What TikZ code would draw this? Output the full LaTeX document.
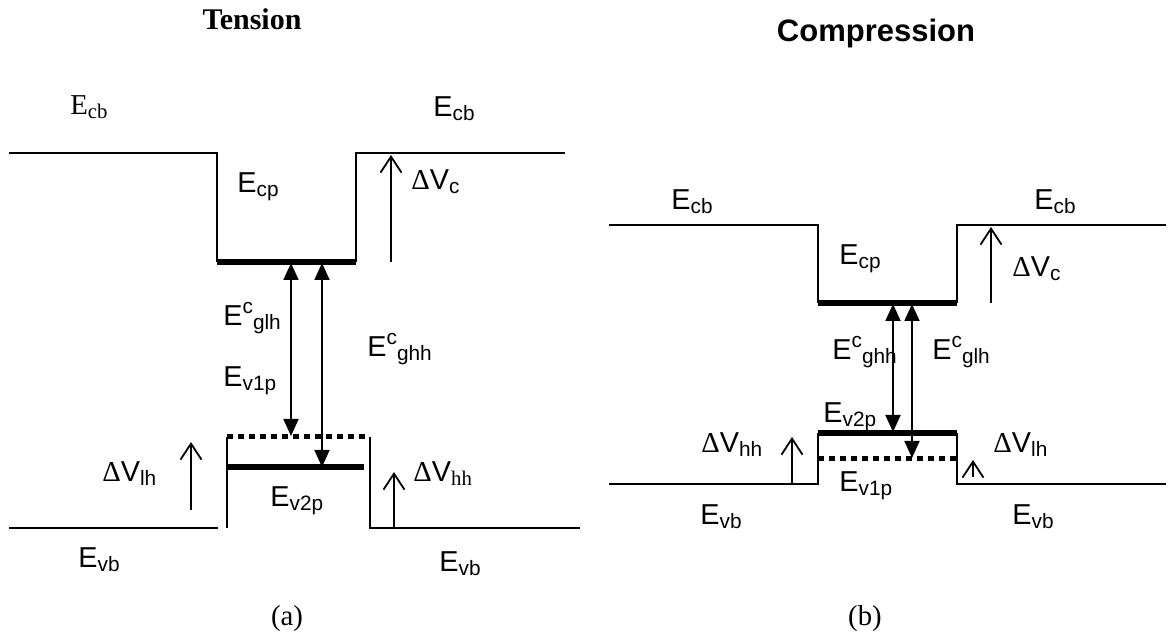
\documentclass[tikz,border=0pt]{standalone}
\usepackage{fontspec}
\setmainfont{Liberation Sans}
\newfontfamily\timesfont{Liberation Serif}
\usetikzlibrary{arrows.meta}
\newcommand\lo[1]{\raisebox{-0.12em}{\fontsize{10.4}{12}\selectfont #1}}
\newcommand\hi[1]{\raisebox{0.45em}{\fontsize{10.4}{12}\selectfont #1}}
\newcommand\dlt{{\timesfont Δ}}

\begin{document}
\begin{tikzpicture}[x=0.5pt,y=-0.5pt,line join=miter,
  band/.style={line width=1pt},
  level/.style={line width=2.6pt},
  sublevel/.style={line width=2.5pt,dash pattern=on 2.8pt off 2.7pt},
  trans/.style={line width=0.9pt,{Triangle[length=8.5pt,width=7.5pt]}-{Triangle[length=8.5pt,width=7.5pt]}},
  offset/.style={line width=0.9pt,-{Straight Barb[length=8pt,width=10.5pt]}},
  lbl/.style={anchor=base west,inner sep=0pt,font=\fontsize{14.4}{17}\selectfont}]
\useasboundingbox (0,0) rectangle (1169,641);

% (a) tension
\node[anchor=base,inner sep=0pt,font=\timesfont\bfseries\fontsize{15}{18}\selectfont] (tension) at (252,30) {Tension};
\draw[band] (9,153) -- (217,153) -- (217,262);
\draw[band] (356,262) -- (356,153) -- (565,153);
\draw[level] (217,262) -- (356,262);
\draw[band] (9,528) -- (218,528);
\draw[band] (227,437) -- (227,528);
\draw[band] (370,437) -- (370,528) -- (580,528);
\draw[sublevel] (227,437) -- (366,437);
\draw[level] (227,467) -- (364,467);
\coordinate (cpA1) at (291,263);
\coordinate (cpA2) at (322,263);
\coordinate (lhA) at (291,436);
\coordinate (hhA) at (322,467);
\draw[trans] (cpA1) -- (lhA);
\draw[trans] (cpA2) -- (hhA);
\draw[offset] (391,262) -- (391,155);
\draw[offset] (191,510) -- (191,442);
\draw[offset] (394,528) -- (394,472);
\node[lbl,font=\timesfont\fontsize{14.4}{17}\selectfont] (ecbA1) at (70,115) {E\lo{cb}};
\node[lbl] (ecbA2) at (433,117) {E\lo{cb}};
\node[lbl] (ecpA) at (237,193) {E\lo{cp}};
\node[lbl] (dvcA) at (411,190) {\dlt V\lo{c}};
\node[lbl] (eglhA) at (223,326) {E\hi{c}\lo{glh}};
\node[lbl] (ev1pA) at (223,387) {E\lo{v1p}};
\node[lbl] (eghhA) at (367,357) {E\hi{c}\lo{ghh}};
\node[lbl] (dvlhA) at (102,482) {\dlt V\lo{lh}};
\node[lbl] (dvhhA) at (413,482) {\dlt V\lo{\timesfont hh}};
\node[lbl] (ev2pA) at (270,507) {E\lo{v2p}};
\node[lbl] (evbA1) at (78,568) {E\lo{vb}};
\node[lbl] (evbA2) at (439,572) {E\lo{vb}};
\node[anchor=base,inner sep=0pt,font=\timesfont\fontsize{14.4}{17}\selectfont] (capA) at (287,626) {(a)};

% (b) compression
\node[anchor=base,inner sep=0pt,font=\bfseries\fontsize{15.5}{18}\selectfont] (compression) at (876,42) {Compression};
\draw[band] (609,225) -- (818,225) -- (818,303);
\draw[band] (957,303) -- (957,225) -- (1166,225);
\draw[level] (818,303) -- (957,303);
\draw[band] (609,484) -- (818,484) -- (818,433);
\draw[band] (957,433) -- (957,484) -- (1166,484);
\draw[level] (818,433) -- (957,433);
\draw[sublevel] (818,459) -- (957,459);
\coordinate (cpB1) at (893,304);
\coordinate (cpB2) at (912,304);
\coordinate (hhB) at (893,432);
\coordinate (lhB) at (912,458);
\draw[trans] (cpB1) -- (hhB);
\draw[trans] (cpB2) -- (lhB);
\draw[offset] (991,303) -- (991,227);
\draw[offset] (792,484) -- (792,437);
\draw[offset] (973,477) -- (973,460);
\node[lbl] (ecbB1) at (671,210) {E\lo{cb}};
\node[lbl] (ecbB2) at (1034,210) {E\lo{cb}};
\node[lbl] (ecpB) at (839,265) {E\lo{cp}};
\node[lbl] (dvcB) at (1012,277) {\dlt V\lo{c}};
\node[lbl] (eghhB) at (832,360) {E\hi{c}\lo{ghh}};
\node[lbl] (eglhB) at (932,360) {E\hi{c}\lo{glh}};
\node[lbl] (ev2pB) at (823,423) {E\lo{v2p}};
\node[lbl] (dvhhB) at (701,453) {\dlt V\lo{hh}};
\node[lbl] (dvlhB) at (993,453) {\dlt V\lo{lh}};
\node[lbl] (ev1pB) at (839,492) {E\lo{v1p}};
\node[lbl] (evbB1) at (700,525) {E\lo{vb}};
\node[lbl] (evbB2) at (1012,525) {E\lo{vb}};
\node[anchor=base,inner sep=0pt,font=\timesfont\fontsize{14.4}{17}\selectfont] (capB) at (865,626) {(b)};
\end{tikzpicture}
\end{document}
